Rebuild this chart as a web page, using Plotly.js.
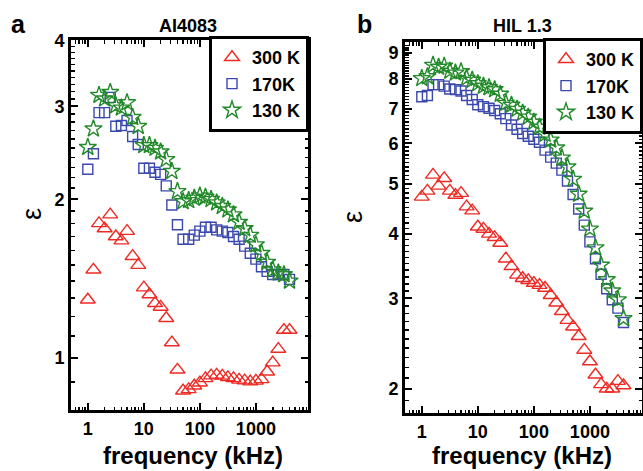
<!DOCTYPE html>
<html><head><meta charset="utf-8">
<script src="https://cdn.plot.ly/plotly-3.0.1.min.js"></script>
<style>html,body{margin:0;padding:0;background:#fff}</style>
</head><body><div id="chart" style="width:643px;height:471px"></div>
<script>
// frequency (kHz)
const freq = [1, 1.259, 1.585, 1.995, 2.512, 3.162, 3.981, 5.012, 6.310, 7.943,
  10, 12.59, 15.85, 19.95, 25.12, 31.62, 39.81, 50.12, 63.10, 79.43,
  100, 125.9, 158.5, 199.5, 251.2, 316.2, 398.1, 501.2, 631.0, 794.3,
  1000, 1259, 1585, 1995, 2512, 3162, 3981];

// panel a: AI4083
const a300 = [1.29, 1.47, 1.80, 1.76, 1.87, 1.70, 1.67, 1.74, 1.56, 1.50,
  1.36, 1.32, 1.27, 1.25, 1.19, 1.07, 0.95, 0.867, 0.872, 0.886,
  0.898, 0.915, 0.926, 0.929, 0.925, 0.919, 0.915, 0.909, 0.906, 0.902,
  0.905, 0.911, 0.942, 0.98, 1.04, 1.13, 1.13];
const a170 = [2.28, 2.44, 2.92, 2.92, 3.12, 2.75, 2.76, 2.82, 2.63, 2.54,
  2.29, 2.29, 2.25, 2.23, 2.12, 1.95, 1.79, 1.68, 1.68, 1.71,
  1.74, 1.77, 1.77, 1.75, 1.74, 1.73, 1.70, 1.68, 1.63, 1.58,
  1.54, 1.49, 1.46, 1.44, 1.44, 1.44, 1.41];
const a130 = [2.51, 2.72, 3.15, 3.10, 3.19, 3.01, 2.98, 3.05, 2.86, 2.75,
  2.53, 2.53, 2.50, 2.46, 2.38, 2.26, 2.07, 1.98, 1.99, 2.01,
  2.03, 2.02, 2.00, 1.97, 1.94, 1.91, 1.87, 1.81, 1.76, 1.71,
  1.64, 1.58, 1.52, 1.47, 1.45, 1.44, 1.40];

// panel b: HIL 1.3
const b300 = [4.72, 4.85, 5.21, 4.96, 5.13, 4.85, 4.76, 4.80, 4.52, 4.44,
  4.13, 4.09, 4.00, 3.94, 3.84, 3.58, 3.46, 3.33, 3.28, 3.25,
  3.21, 3.18, 3.14, 3.04, 2.94, 2.83, 2.72, 2.64, 2.53, 2.38,
  2.26, 2.13, 2.04, 2.00, 2.00, 2.07, 2.03];
const b170 = [7.39, 7.43, 7.80, 7.80, 7.75, 7.65, 7.63, 7.58, 7.43, 7.30,
  7.13, 7.07, 7.02, 6.95, 6.85, 6.70, 6.51, 6.39, 6.27, 6.19,
  6.11, 6.03, 5.82, 5.64, 5.49, 5.32, 5.07, 4.77, 4.47, 4.16,
  3.86, 3.58, 3.34, 3.13, 2.98, 2.87, 2.69];
const b130 = [8.02, 8.09, 8.51, 8.44, 8.48, 8.29, 8.22, 8.27, 8.03, 7.96,
  7.84, 7.75, 7.70, 7.63, 7.48, 7.18, 7.12, 6.99, 6.87, 6.75,
  6.60, 6.45, 6.25, 6.09, 5.88, 5.62, 5.40, 5.11, 4.78, 4.43,
  4.09, 3.76, 3.48, 3.26, 3.10, 2.98, 2.74];

const seriesNames = ['300 K', '170K', '130 K'];
const xTickVals = [1, 10, 100, 1000];
const xTickText = ['1', '10', '100', '1000'];
const aYTicks = [1, 2, 3, 4];
const bYTicks = [2, 3, 4, 5, 6, 7, 8, 9];

const RED = '#ee2a24', BLUE = '#3b48ad', GREEN = '#238a2a';
const FONT = 'Liberation Sans, Arial, Helvetica, sans-serif';

// minor tick positions (axis decoration)
const xMinor = [];
[0.1, 1, 10, 100, 1000].forEach(d => { for (let m = 2; m <= 9; m++) xMinor.push(d * m); });
const aMinor = [], bMinor = [];
for (let i = 8; i <= 40; i++) if (i % 10) aMinor.push(i / 10);
for (let i = 18; i <= 94; i++) if (i % 10) bMinor.push(i / 10);

const styles = [
  {symbol: 'triangle-up-open', size: 13, color: RED},
  {symbol: 'square-open', size: 10, color: BLUE},
  {symbol: 'star-open', size: 13, color: GREEN}
];

function mk(y, i, xa, ya, lg) {
  const s = styles[i];
  return {
    x: freq, y: y, type: 'scatter', mode: 'markers', name: seriesNames[i],
    xaxis: xa, yaxis: ya, legend: lg,
    marker: {symbol: s.symbol, size: s.size, color: s.color, line: {color: s.color, width: 1.4}}
  };
}

const data = [
  mk(a300, 0, 'x', 'y', 'legend'), mk(a170, 1, 'x', 'y', 'legend'), mk(a130, 2, 'x', 'y', 'legend'),
  mk(b300, 0, 'x2', 'y2', 'legend2'), mk(b170, 1, 'x2', 'y2', 'legend2'), mk(b130, 2, 'x2', 'y2', 'legend2')
];

const common = {
  type: 'log', showline: true, linewidth: 3, linecolor: '#000', mirror: 'allticks',
  ticks: 'inside', ticklen: 7, tickwidth: 2, tickcolor: '#000',
  showgrid: false, zeroline: false, tickmode: 'array',
  tickfont: {family: FONT, size: 18, color: '#000', weight: 'bold'}
};
function minor(vals) {
  return {tickmode: 'array', tickvals: vals, ticks: 'inside', ticklen: 3.5, tickwidth: 1.5, tickcolor: '#000', showgrid: false};
}

const W = 643, H = 471;
function ann(text, px, py, size, bold, extra) {
  return Object.assign({
    text: text, xref: 'paper', yref: 'paper', x: px / W, y: 1 - py / H,
    xanchor: 'center', yanchor: 'middle', showarrow: false,
    font: {family: FONT, size: size, color: '#000', weight: bold ? 'bold' : 'normal'}
  }, extra || {});
}

const legendCommon = {
  bgcolor: '#fff', bordercolor: '#000', borderwidth: 3,
  font: {family: FONT, size: 18, color: '#000', weight: 'bold'},
  xanchor: 'right', yanchor: 'top', itemwidth: 30, tracegroupgap: 0
};

const layout = {
  width: W, height: H, margin: {l: 0, r: 0, t: 0, b: 0},
  paper_bgcolor: '#fff', plot_bgcolor: '#fff',
  xaxis: Object.assign({}, common, {domain: [71 / W, 308 / W], range: [-0.30, 3.93], tickvals: xTickVals, ticktext: xTickText, anchor: 'y', minor: minor(xMinor)}),
  yaxis: Object.assign({}, common, {domain: [1 - 410 / H, 1 - 40 / H], range: [-0.0985, 0.603], tickvals: aYTicks, anchor: 'x', minor: minor(aMinor)}),
  xaxis2: Object.assign({}, common, {domain: [405 / W, 642 / W], range: [-0.30, 3.93], tickvals: xTickVals, ticktext: xTickText, anchor: 'y2', minor: minor(xMinor)}),
  yaxis2: Object.assign({}, common, {domain: [1 - 413 / H, 1 - 42 / H], range: [0.254, 0.975], tickvals: bYTicks, anchor: 'x2', minor: minor(bMinor)}),
  legend: Object.assign({}, legendCommon, {x: 309 / W, y: 1 - 36 / H}),
  legend2: Object.assign({}, legendCommon, {x: 643 / W, y: 1 - 38 / H}),
  annotations: [
    ann('a', 18, 24, 25, true),
    ann('b', 365, 24, 25, true),
    ann('AI4083', 188, 26, 18, true),
    ann('HIL 1.3', 522, 26, 18, true),
    ann('ε', 32, 214, 27, false, {textangle: -90}),
    ann('ε', 353, 217, 27, false, {textangle: -90}),
    ann('frequency (kHz)', 193, 455, 24, true),
    ann('frequency (kHz)', 522, 455, 24, true)
  ]
};

Plotly.newPlot('chart', data, layout, {displayModeBar: false, staticPlot: true});
</script>
</body></html>
